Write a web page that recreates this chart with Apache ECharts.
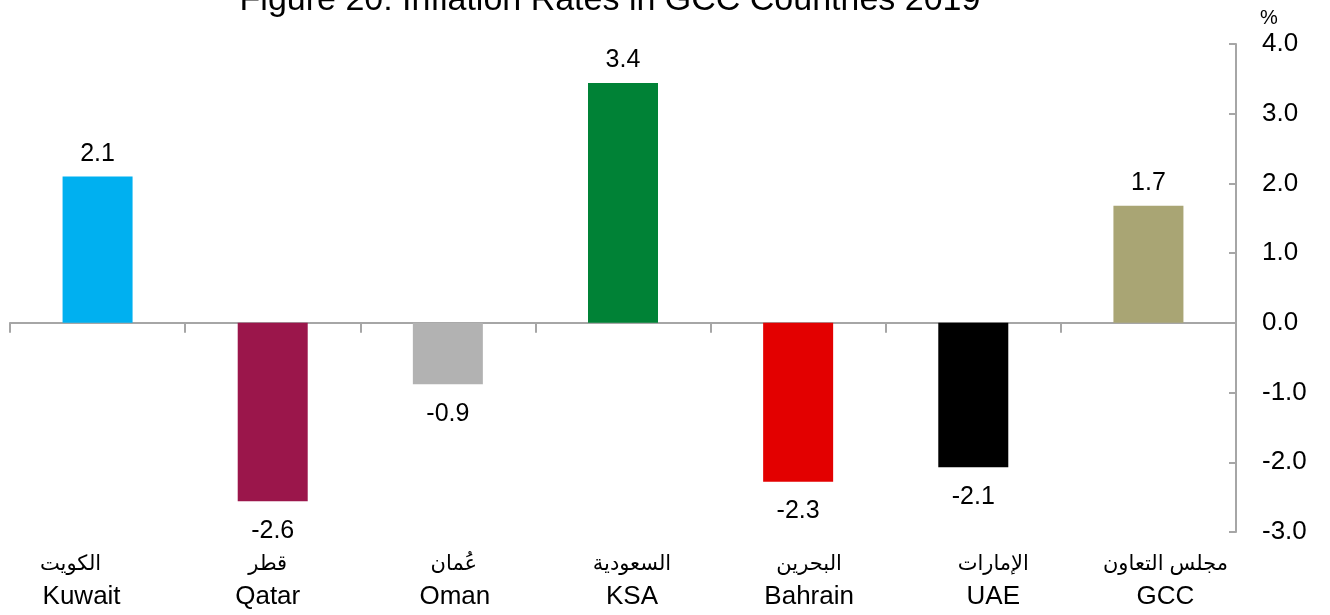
<!DOCTYPE html>
<html><head><meta charset="utf-8">
<script src="https://cdn.jsdelivr.net/npm/echarts@6/dist/echarts.min.js"></script>
<style>html,body{margin:0;padding:0;background:#fff}#c{width:1330px;height:615px}</style>
</head><body><div id="c"></div>
<script>
const categoriesEn = ['Kuwait','Qatar','Oman','KSA','Bahrain','UAE','GCC'];
const categoriesAr = ['الكويت','قطر','عُمان','السعودية','البحرين','الإمارات','مجلس التعاون'];
const values = [2.1, -2.56, -0.88, 3.44, -2.28, -2.07, 1.68];
const colors = ['#00b0f0','#9b164b','#b2b2b2','#008236','#e30000','#000000','#a9a574'];
const yTicks = [-3, -2, -1, 0, 1, 2, 3, 4];
const titleText = 'Figure 20: Inflation Rates in GCC Countries 2019';

// layout: horizontal shift of each category label (px) relative to its category centre
const shiftEn = [-16, -5, 7, 9, 11, 20, 17];
const shiftAr = [-27, -5, 6, 9, 11, 20, 17];

const FONT = '"Liberation Sans", Arial, "DejaVu Sans", sans-serif';
function pad(d) { return d >= 0 ? [0, 0, 0, 2 * d] : [0, -2 * d, 0, 0]; }
const rich = {};
categoriesEn.forEach((c, i) => {
  rich['ar' + i] = { fontFamily: FONT, fontSize: 21, color: '#000', lineHeight: 48, padding: pad(shiftAr[i]) };
  rich['en' + i] = { fontFamily: FONT, fontSize: 26, color: '#000', lineHeight: 18, padding: pad(shiftEn[i]) };
});

const chart = echarts.init(document.getElementById('c'));
chart.setOption({
  animation: false,
  title: { text: titleText, left: 605, textAlign: 'center', top: -21,
    textStyle: { fontFamily: FONT, fontSize: 34, fontWeight: 'normal', color: '#000' } },
  grid: { left: 10, right: 94, top: 44, bottom: 83 },
  xAxis: [{
    type: 'category', data: categoriesEn, position: 'bottom',
    axisLine: { onZero: true, lineStyle: { color: '#a6a6a6', width: 2 } },
    axisTick: { show: true, length: 10, lineStyle: { color: '#a6a6a6', width: 2 } },
    axisLabel: { show: false }
  }, {
    type: 'category', data: categoriesEn, position: 'bottom',
    axisLine: { show: false }, axisTick: { show: false },
    axisLabel: { margin: 8, interval: 0,
      formatter: (v, i) => '{ar' + i + '|' + categoriesAr[i] + '}\n{en' + i + '|' + v + '}',
      rich: rich }
  }],
  yAxis: {
    type: 'value', position: 'right', min: yTicks[0], max: yTicks[yTicks.length-1], interval: 1,
    name: '%', nameLocation: 'end', nameGap: 16,
    nameTextStyle: { fontFamily: FONT, fontSize: 20, color: '#000', align: 'left', padding: [0,0,0,24] },
    axisLine: { show: true, lineStyle: { color: '#a6a6a6', width: 2 } },
    axisTick: { show: true, inside: true, length: 7, lineStyle: { color: '#a6a6a6', width: 2 } },
    splitLine: { show: false },
    axisLabel: { margin: 26, fontFamily: FONT, fontSize: 26, color: '#000', align: 'left',
      formatter: v => v.toFixed(1) }
  },
  series: [{
    type: 'bar', xAxisIndex: 0, barWidth: 70,
    data: values.map((v, i) => ({ value: v, itemStyle: { color: colors[i] },
      label: v >= 0 ? { position: 'top', distance: 10 } : { position: 'bottom', distance: 17 } })),
    label: { show: true, fontFamily: FONT, fontSize: 25, color: '#000',
      formatter: p => p.value.toFixed(1) }
  }]
});
</script></body></html>
